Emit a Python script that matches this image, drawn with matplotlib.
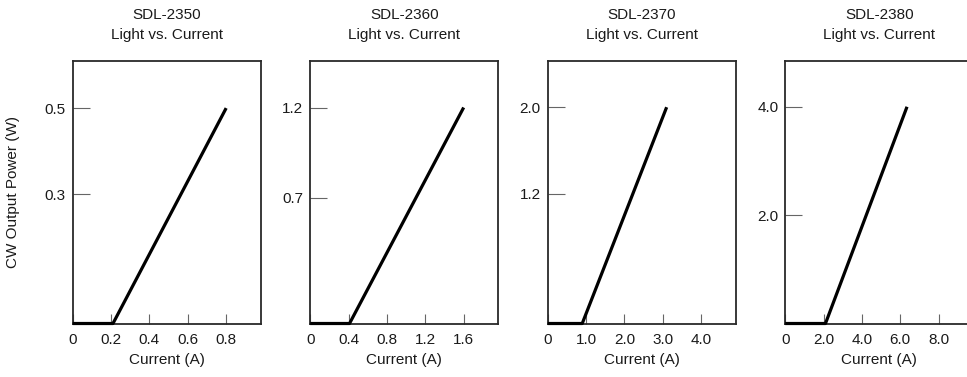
import numpy as np
import matplotlib
matplotlib.use("Agg")
import matplotlib.pyplot as plt

plt.rcParams['font.family'] = ['Liberation Sans', 'DejaVu Sans']

# models and their light vs current curves (threshold, then linear)
models = ["SDL-2350", "SDL-2360", "SDL-2370", "SDL-2380"]
current_2350 = [0, 0.21, 0.80]
power_2350 = [0, 0, 0.5]
current_2360 = [0, 0.41, 1.60]
power_2360 = [0, 0, 1.2]
current_2370 = [0, 0.90, 3.10]
power_2370 = [0, 0, 2.0]
current_2380 = [0, 2.10, 6.35]
power_2380 = [0, 0, 4.0]

xticks_list = [[0, 0.2, 0.4, 0.6, 0.8],
               [0, 0.4, 0.8, 1.2, 1.6],
               [0, 1.0, 2.0, 3.0, 4.0],
               [0, 2.0, 4.0, 6.0, 8.0]]
xticklabels_list = [["0", "0.2", "0.4", "0.6", "0.8"],
                    ["0", "0.4", "0.8", "1.2", "1.6"],
                    ["0", "1.0", "2.0", "3.0", "4.0"],
                    ["0", "2.0", "4.0", "6.0", "8.0"]]
yticks_list = [[0.3, 0.5], [0.7, 1.2], [1.2, 2.0], [2.0, 4.0]]
yticklabels_list = [["0.3", "0.5"], ["0.7", "1.2"], ["1.2", "2.0"], ["2.0", "4.0"]]
xmax_list = [0.98, 1.96, 4.9, 9.8]
ymax_list = [0.61, 1.46, 2.43, 4.85]

currents = [current_2350, current_2360, current_2370, current_2380]
powers = [power_2350, power_2360, power_2370, power_2380]

W, H = 967, 377
fig = plt.figure(figsize=(W / 100, H / 100), dpi=100)

left0 = 72.7
step = 237.5
ax_w = 188
ax_top = 60.7
ax_bot = 323.5

text_col = '#1a1a1a'
for i in range(4):
    l = left0 + i * step
    ax = fig.add_axes([l / W, (H - ax_bot) / H, ax_w / W, (ax_bot - ax_top) / H])
    ax.plot(currents[i], powers[i], color='black', lw=2.3, clip_on=False,
            solid_capstyle='butt', zorder=5)
    ax.set_xlim(0, xmax_list[i])
    ax.set_ylim(0, ymax_list[i])
    ax.set_xticks(xticks_list[i])
    ax.set_xticklabels(xticklabels_list[i])
    ax.set_yticks(yticks_list[i])
    ax.set_yticklabels(yticklabels_list[i])
    ax.tick_params(axis='x', direction='in', length=7.5, width=0.8, color='#666666',
                   pad=7, labelsize=11, labelcolor=text_col)
    ax.tick_params(axis='y', direction='in', length=12.5, width=0.8, color='#666666',
                   pad=5, labelsize=11, labelcolor=text_col)
    for s in ax.spines.values():
        s.set_linewidth(1.3)
        s.set_color('#2a2a2a')
    ax.set_title(models[i] + "\nLight vs. Current", fontsize=11, linespacing=1.6,
                 pad=15.5, color=text_col)
    ax.set_xlabel("Current (A)", fontsize=11, labelpad=4, color=text_col)
    if i == 0:
        ax.set_ylabel("CW Output Power (W)", fontsize=11, labelpad=17.5, color=text_col)

fig.savefig("out.png", dpi=100)
